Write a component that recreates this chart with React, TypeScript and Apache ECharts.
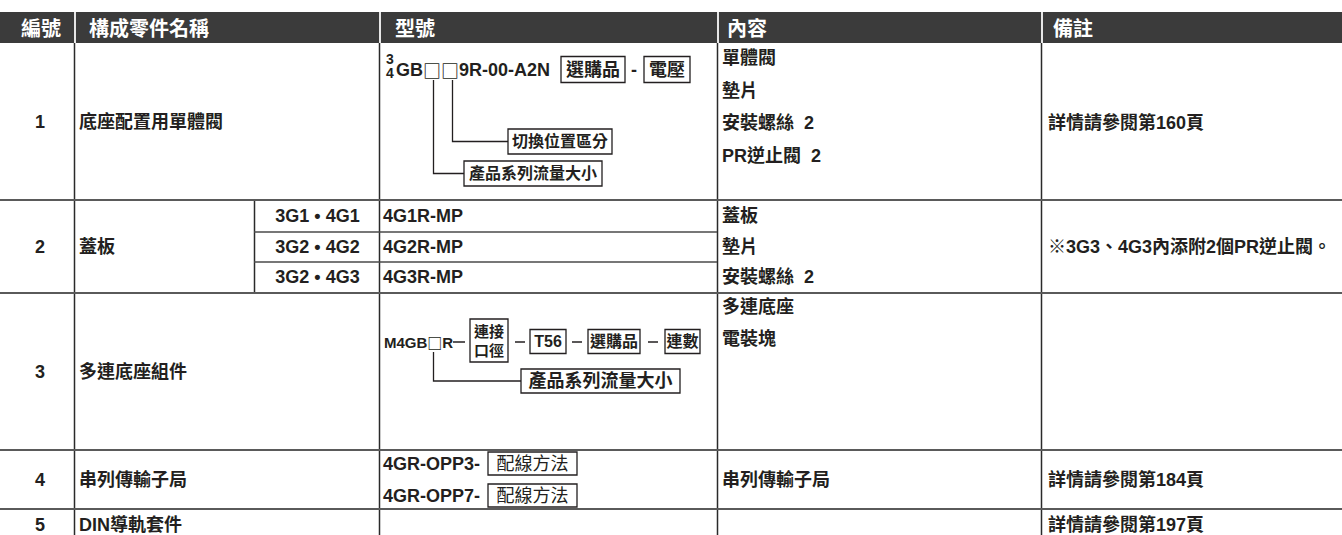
import React, { useEffect, useRef } from 'react';
import * as echarts from 'echarts';

// ---------- content ----------
const HEADERS = ['編號', '構成零件名稱', '型號', '內容', '備註'];
const ROW_NUMBERS = ['1', '2', '3', '4', '5'];
const PART_NAMES = ['底座配置用單體閥', '蓋板', '多連底座組件', '串列傳輸子局', 'DIN導軌套件'];
const COVER_SERIES = ['3G1 • 4G1', '3G2 • 4G2', '3G2 • 4G3'];
const COVER_MODELS = ['4G1R-MP', '4G2R-MP', '4G3R-MP'];
const CONTENTS_ROW1 = ['單體閥', '墊片', '安裝螺絲  2', 'PR逆止閥  2'];
const CONTENTS_ROW2 = ['蓋板', '墊片', '安裝螺絲  2'];
const CONTENTS_ROW3 = ['多連底座', '電裝塊'];
const CONTENTS_ROW4 = ['串列傳輸子局'];
const REMARKS = ['詳情請參閱第160頁', '※3G3、4G3內添附2個PR逆止閥。', '', '詳情請參閱第184頁', '詳情請參閱第197頁'];
const VALVE_PREFIX = ['3', '4'];
const VALVE_CODE = ['GB', '□□', '9R-00-A2N'];
const VALVE_OPTIONS = ['選購品', '電壓'];
const VALVE_DASH = '-';
const VALVE_CALLOUTS = ['切換位置區分', '產品系列流量大小'];
const MANIFOLD_CODE = ['M4GB', '□', 'R'];
const MANIFOLD_BOXES = ['連接\n口徑', 'T56', '選購品', '連數'];
const MANIFOLD_CALLOUT = '產品系列流量大小';
const SERIAL_MODELS = ['4GR-OPP3-', '4GR-OPP7-'];
const SERIAL_WIRING = '配線方法';

// ---------- layout ----------
const W = 1342;
const H = 535;
const COLS = [0, 74, 379, 717, 1041, 1342];
const SUB_COL = 254;
const HEAD = [12, 43];
const ROWS = [43, 200, 293, 450, 509, 535];
const SUB_ROWS = [200, 232, 262, 293];

const FONT = "'Liberation Sans', Arial, 'Noto Sans CJK TC', sans-serif";
const CJK = "'Noto Sans CJK TC', sans-serif";
const INK = '#231f20';
const BODY_WEIGHT = 'bold';

type TOpts = { size?: number; weight?: string; align?: string; fill?: string; lh?: number; rich?: any; family?: string };
function txt(text: string, x: number, y: number, o: TOpts = {}) {
  const align = o.align || 'left';
  return {
    type: 'text',
    x,
    y,
    z: 10,
    style: {
      text,
      fill: o.fill || INK,
      fontSize: o.size || 18,
      fontFamily: o.family || FONT,
      fontWeight: o.weight || BODY_WEIGHT,
      align,
      verticalAlign: 'middle',
      textAlign: align,
      textVerticalAlign: 'middle',
      lineHeight: o.lh,
      rich: o.rich,
    },
  };
}
function line(x1: number, y1: number, x2: number, y2: number, stroke: string, lw: number) {
  return { type: 'line', z: 5, shape: { x1, y1, x2, y2 }, style: { stroke, lineWidth: lw } };
}
function poly(points: number[][]) {
  return { type: 'polyline', z: 6, shape: { points }, style: { stroke: INK, lineWidth: 1.3, fill: null } };
}
function box(x: number, y: number, w: number, h: number) {
  return { type: 'rect', z: 7, shape: { x, y, width: w, height: h }, style: { fill: '#fff', stroke: INK, lineWidth: 1.3 } };
}
function boxed(label: string, x: number, y: number, w: number, h: number, size: number, lh?: number, weight?: string) {
  return [box(x, y, w, h), txt(label, x + w / 2, y + h / 2, { size, align: 'center', lh, weight })];
}

function buildElements() {
  const els: any[] = [];
  // header band
  els.push({ type: 'rect', z: 1, shape: { x: 0, y: HEAD[0], width: W, height: HEAD[1] - HEAD[0] }, style: { fill: '#3b3b3b' } });
  for (let i = 1; i < COLS.length - 1; i++) {
    els.push(line(COLS[i] + 1, HEAD[0], COLS[i] + 1, HEAD[1], '#e6e6e6', 2));
  }
  const headX = [41, 89, 395, 727, 1053];
  HEADERS.forEach((h, i) =>
    els.push(txt(h, headX[i], 28.5, { size: 20, weight: 'bold', fill: '#ffffff', align: i === 0 ? 'center' : 'left' }))
  );

  // grid lines
  for (let i = 1; i < COLS.length - 1; i++) els.push(line(COLS[i] + 0.5, HEAD[1], COLS[i] + 0.5, H, '#2a2a2a', 1.5));
  els.push(line(SUB_COL + 0.5, SUB_ROWS[0], SUB_COL + 0.5, SUB_ROWS[3], '#2a2a2a', 1.5));
  for (let i = 1; i < ROWS.length - 1; i++) els.push(line(0, ROWS[i], W, ROWS[i], '#5a5a5a', 2));
  els.push(line(SUB_COL, SUB_ROWS[1], COLS[3], SUB_ROWS[1], '#4a4a4a', 1.6));
  els.push(line(SUB_COL, SUB_ROWS[2], COLS[3], SUB_ROWS[2], '#4a4a4a', 1.6));

  // number + part name columns
  const rowY = [121.5, 246.5, 371.5, 479.5, 525];
  ROW_NUMBERS.forEach((n, i) => els.push(txt(n, 40, rowY[i], { align: 'center' })));
  PART_NAMES.forEach((n, i) => els.push(txt(n, 79, rowY[i])));

  // cover sub rows
  const subY = [216, 247, 277];
  COVER_SERIES.forEach((s, i) => els.push(txt(s, (SUB_COL + COLS[2]) / 2 + 1, subY[i], { align: 'center' })));
  COVER_MODELS.forEach((s, i) => els.push(txt(s, 383, subY[i])));

  // contents
  const cx = 722;
  const c1y = [58, 90.5, 123, 156];
  CONTENTS_ROW1.forEach((s, i) => els.push(txt(s, cx, c1y[i])));
  CONTENTS_ROW2.forEach((s, i) => els.push(txt(s, cx, subY[i])));
  const c3y = [307, 339];
  CONTENTS_ROW3.forEach((s, i) => els.push(txt(s, cx, c3y[i])));
  CONTENTS_ROW4.forEach((s) => els.push(txt(s, cx, 479.5)));

  // remarks
  const ry = [123, 247, 371.5, 479.5, 525];
  REMARKS.forEach((s, i) => { if (s) els.push(txt(s, 1048, ry[i])); });

  // row 1 model code
  els.push(txt(VALVE_PREFIX[0], 386, 58.5, { size: 14 }));
  els.push(txt(VALVE_PREFIX[1], 386, 72.5, { size: 14 }));
  els.push(txt(`${VALVE_CODE[0]}{sq|${VALVE_CODE[1]}}${VALVE_CODE[2]}`, 396, 69.5, {
    rich: { sq: { fontFamily: CJK, fontSize: 18, fontWeight: 'bold', fill: INK } },
  }));
  els.push(...boxed(VALVE_OPTIONS[0], 561, 56.5, 64, 26, 18));
  els.push(txt(VALVE_DASH, 634, 69.5, { align: 'center' }));
  els.push(...boxed(VALVE_OPTIONS[1], 644, 56.5, 46, 26, 18));
  els.push(poly([[452.5, 80], [452.5, 141.5], [508, 141.5]]));
  els.push(poly([[433.5, 80], [433.5, 173.5], [464, 173.5]]));
  els.push(...boxed(VALVE_CALLOUTS[0], 508, 129, 104, 25, 16));
  els.push(...boxed(VALVE_CALLOUTS[1], 464, 161, 138, 25, 16));

  // row 3 manifold code
  els.push(txt(`${MANIFOLD_CODE[0]}{sq|${MANIFOLD_CODE[1]}}${MANIFOLD_CODE[2]}`, 384, 342, {
    size: 15,
    rich: { sq: { fontFamily: CJK, fontSize: 15, fontWeight: 'bold', fill: INK } },
  }));
  const dashes = [[453, 465], [515, 525], [572, 582], [648, 658]];
  dashes.forEach(([a, b]) => els.push(line(a, 342, b, 342, INK, 1.5)));
  els.push(...boxed(MANIFOLD_BOXES[0], 470, 319, 38, 43, 15, 19));
  els.push(...boxed(MANIFOLD_BOXES[1], 530, 329.5, 36, 24, 16));
  els.push(...boxed(MANIFOLD_BOXES[2], 588, 329.5, 52, 24, 16));
  els.push(...boxed(MANIFOLD_BOXES[3], 665, 329.5, 35, 24, 16));
  els.push(poly([[433.5, 352], [433.5, 381], [521, 381]]));
  els.push(...boxed(MANIFOLD_CALLOUT, 521, 369, 159, 24, 18));

  // row 4 serial models
  const sy = [463.5, 495.5];
  SERIAL_MODELS.forEach((m, i) => {
    els.push(txt(m, 383, sy[i]));
    els.push(...boxed(SERIAL_WIRING, 488, sy[i] - 11.5, 89, 23, 18, undefined, 'normal'));
  });
  return els;
}

export default function App() {
  const ref = useRef<HTMLDivElement>(null);
  useEffect(() => {
    if (!ref.current) return;
    const chart = echarts.init(ref.current, null, { renderer: 'svg', width: W, height: H });
    chart.setOption({
      animation: false,
      backgroundColor: '#ffffff',
      graphic: { elements: buildElements() },
    });
    return () => chart.dispose();
  }, []);
  return (
    <div
      ref={ref}
      style={{ position: 'fixed', left: 0, top: 0, width: W, height: H, background: '#fff' }}
    />
  );
}
